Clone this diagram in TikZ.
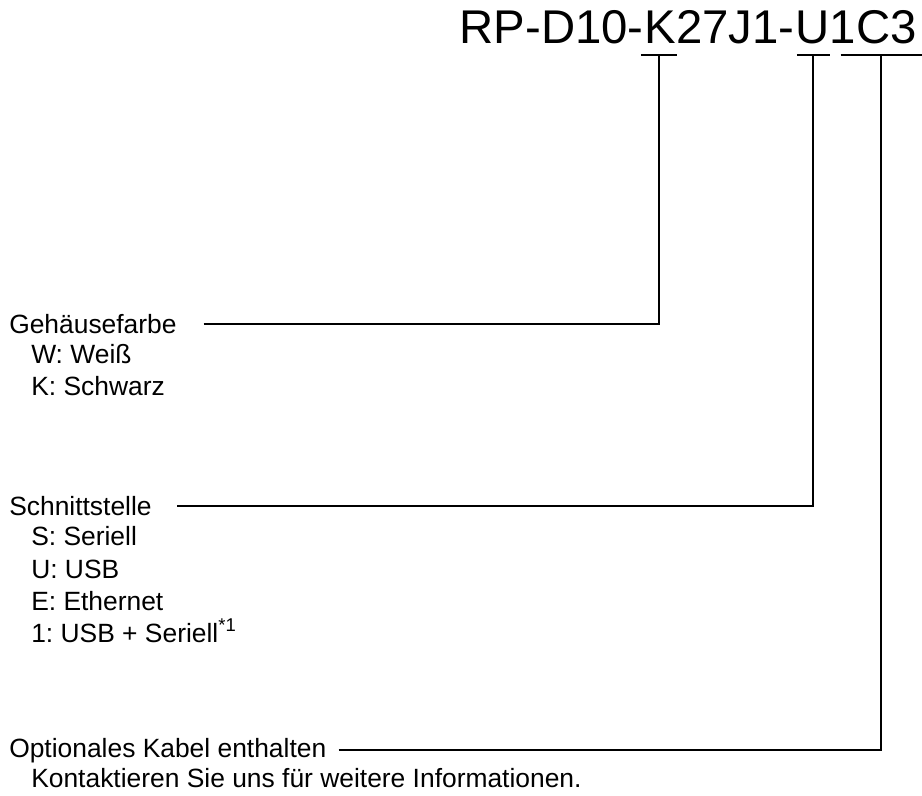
\documentclass[tikz,border=0pt]{standalone}
\usepackage{fontspec}
\setmainfont{Liberation Sans}
\frenchspacing
\usetikzlibrary{positioning,calc}

\begin{document}
\begin{tikzpicture}[
    x=0.75pt, y=-0.75pt,
    code/.style={inner sep=0pt, font=\fontsize{35.5}{40}\selectfont, anchor=base east},
    head/.style={inner sep=0pt, font=\fontsize{19.8}{24}\selectfont, anchor=base west},
    item/.style={head},
    lead/.style={line width=1.5pt},
]
\useasboundingbox (0,0) rectangle (922,796);

% Part number, split up so the coded letters can be marked
\node[code] (opt) at (917,43) {1C3};
\node[code] (iface) at (opt.base west) {U};
\node[code] (mid) at (iface.base west) {27J1-};
\node[code] (color) at (mid.base west) {K};
\node[code] (pre) at (color.base west) {RP-D10-};

% Marks under the coded letters
\draw[lead] ($(color.base west)+(-3,12)$) -- coordinate (colorU) ($(color.base east)+(1,12)$);
\draw[lead] ($(iface.base west)+(2,12)$) -- coordinate (ifaceU) ($(iface.base east)+(0,12)$);
\draw[lead] ($(opt.base west)+(11,12)$) -- coordinate (optU) ($(opt.base east)+(5,12)$);

% Housing colour
\node[head] (farbe) at (9,333) {Gehäusefarbe};
\node[item] (weiss) at (31,363) {W: Weiß};
\node[item] (schwarz) at (31,395) {K: Schwarz};

% Interface
\node[head] (schnitt) at (9,515) {Schnittstelle};
\node[item] (seriell) at (31,545) {S: Seriell};
\node[item] (usb) at (31,578) {U: USB};
\node[item] (ether) at (31,610) {E: Ethernet};
\node[item] (beide) at (31,642) {1: USB + Seriell\textsuperscript{*1}};

% Cable option
\node[head] (kabel) at (9,757) {Optionales Kabel enthalten};
\node[item] (kontakt) at (31,787) {Kontaktieren Sie uns für weitere Informationen.};

% Leaders
\draw[lead] ([xshift=20pt]farbe.east) -| (colorU);
\draw[lead] ([xshift=19pt]schnitt.east) -| (ifaceU);
\draw[lead] ([xshift=9pt]kabel.east) -| (optU);

\end{tikzpicture}
\end{document}
